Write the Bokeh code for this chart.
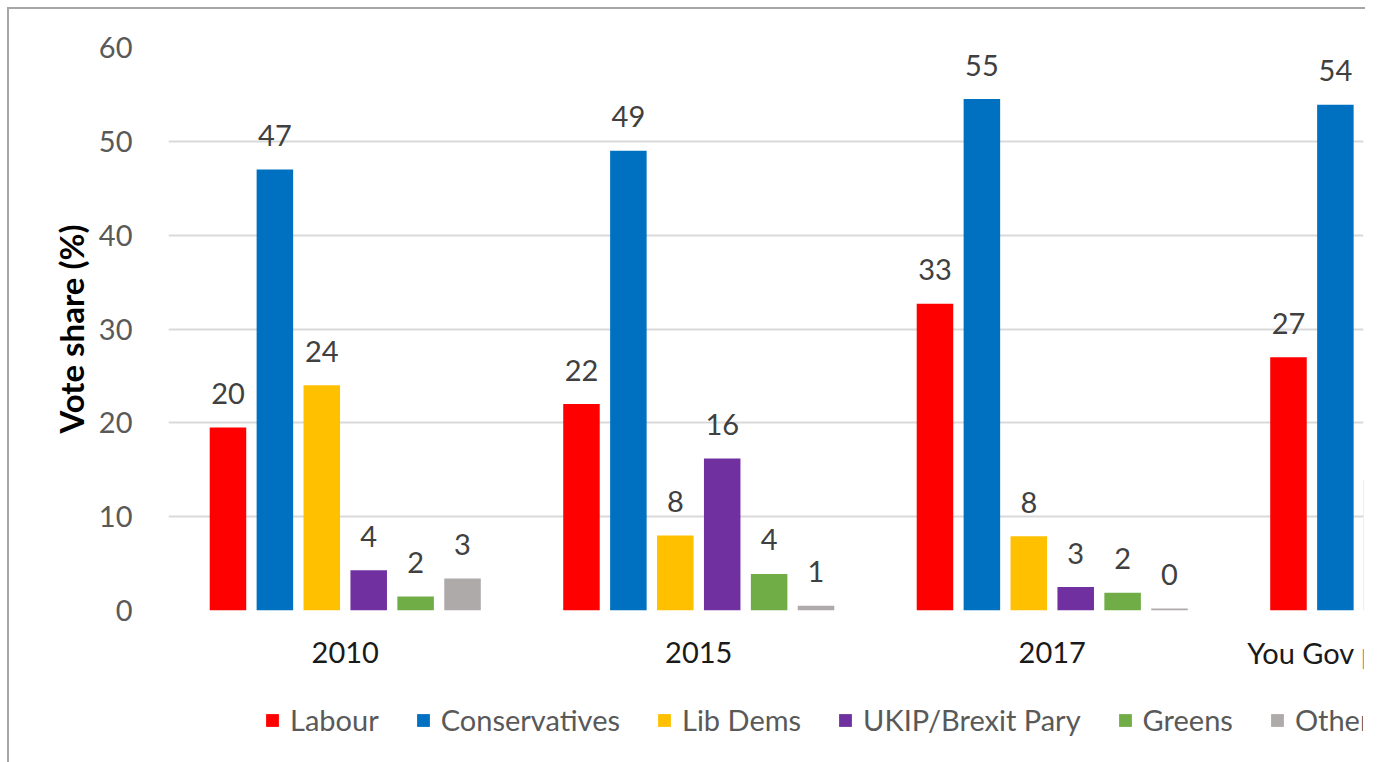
import math
from bokeh.plotting import figure
from bokeh.layouts import column
from bokeh.models import (Range1d, FixedTicker, Legend, LegendItem, ColumnDataSource)
from bokeh.core.properties import value
from bokeh.embed import file_html
from bokeh.resources import INLINE

# ---- data ----
categories = ["2010", "2015", "2017", "You Gov poll (Nov. 2019)"]
parties = ["Labour", "Conservatives", "Lib Dems", "UKIP/Brexit Pary", "Greens", "Others"]
labour = [19.5, 22.0, 32.7, 27.0]
conservatives = [47.0, 49.0, 54.5, 53.9]
lib_dems = [24.0, 8.0, 7.9, 13.9]
ukip_brexit = [4.3, 16.2, 2.5, float("nan")]
greens = [1.5, 3.9, 1.9, float("nan")]
others = [3.4, 0.5, 0.2, float("nan")]
colors = ["#FF0000", "#0070C0", "#FFC000", "#7030A0", "#70AD47", "#AEAAAA"]
y_ticks = [0, 10, 20, 30, 40, 50, 60]

series = [labour, conservatives, lib_dems, ukip_brexit, greens, others]

FONT = "Lato"
FS = "29px"
cat_w = 353.5          # px per category
frame_w = 1195
step = 0.1327
bar_w = 0.1033
n_cat = len(categories)
x_end = frame_w / cat_w   # the reference is cropped inside the 4th group
xr = Range1d(0, x_end)

# ---------------- main plot (bars + y axis) ----------------
p = figure(width=1356, height=621, output_backend="svg", toolbar_location=None,
           x_range=xr, y_range=Range1d(0, 60), x_axis_location=None,
           min_border_left=159, min_border_right=2, min_border_top=38,
           min_border_bottom=20, title=None)
p.outline_line_color = None
p.background_fill_color = "white"
p.border_fill_color = "white"

p.xgrid.visible = False
p.ygrid.grid_line_color = "#d9d9d9"
p.ygrid.grid_line_width = 2
p.ygrid.ticker = FixedTicker(ticks=y_ticks)

p.yaxis.ticker = FixedTicker(ticks=y_ticks)
p.yaxis.axis_line_color = None
p.yaxis.major_tick_line_color = None
p.yaxis.minor_tick_line_color = None
p.yaxis.major_label_standoff = 30
p.yaxis.major_label_text_font = FONT
p.yaxis.major_label_text_font_size = FS
p.yaxis.major_label_text_color = "#595959"
p.yaxis.axis_label = "Vote share (%)"
p.yaxis.axis_label_text_font = FONT
p.yaxis.axis_label_text_font_style = "bold"
p.yaxis.axis_label_text_font_size = "33px"
p.yaxis.axis_label_text_color = "#000000"
p.yaxis.axis_label_standoff = 5

# ---------------- strip below: category labels + legend ----------------
b = figure(width=1356, height=132, output_backend="svg", toolbar_location=None,
           x_range=xr, y_range=Range1d(0, 132), x_axis_location=None,
           y_axis_location=None, min_border_left=159, min_border_right=2,
           min_border_top=0, min_border_bottom=0, title=None)
b.outline_line_color = None
b.grid.visible = False
b.background_fill_color = "white"
b.border_fill_color = "white"

cat_src = ColumnDataSource(dict(x=[i + 0.5 for i in range(n_cat)], lab=categories,
                                y=[110] * n_cat))
b.text(x="x", y="y", text="lab", source=cat_src, text_align="center",
       text_baseline="middle", text_font=value(FONT), text_font_size=FS,
       text_color="#1a1a1a")

items = []
for k, (name, vals, col) in enumerate(zip(parties, series, colors)):
    xs, ys, labs, lx, ly = [], [], [], [], []
    for i, v in enumerate(vals):
        if v is None or (isinstance(v, float) and math.isnan(v)):
            continue
        xc = i + 0.5 + (k - 2.5) * step
        xs.append(xc)
        ys.append(v)
        if xc < x_end:
            lx.append(xc)
            ly.append(v)
            labs.append(str(int(math.floor(v + 0.5))))
    src = ColumnDataSource(dict(x=xs, top=ys))
    p.vbar(x="x", top="top", width=bar_w, bottom=0, source=src,
           fill_color=col, line_color=None)
    lsrc = ColumnDataSource(dict(x=lx, y=ly, lab=labs))
    p.text(x="x", y="y", text="lab", source=lsrc, text_align="center",
           text_baseline="alphabetic", y_offset=-34, text_font=value(FONT),
           text_font_size=FS, text_color="#404040")
    # legend swatch: same series, not drawn in the strip itself
    sw = b.vbar(x="x", top="top", width=bar_w, bottom=0, source=src,
                fill_color=col, line_color=None, visible=False)
    items.append(LegendItem(label=name, renderers=[sw]))

legend = Legend(items=items, orientation="horizontal", location=(96, 25),
                glyph_width=16, glyph_height=16, label_standoff=10, spacing=36,
                padding=0, margin=0, border_line_color=None,
                background_fill_alpha=0, inactive_fill_alpha=0,
                label_text_font=FONT, label_text_font_size=FS,
                label_text_color="#595959", label_height=30)
b.add_layout(legend, "center")

view = column(p, b, spacing=0,
              styles={"margin-left": "7px", "margin-top": "7px",
                      "border-left": "2px solid #a6a6a6",
                      "border-top": "2px solid #a6a6a6"})

open("out.html", "w").write(file_html(view, INLINE))
